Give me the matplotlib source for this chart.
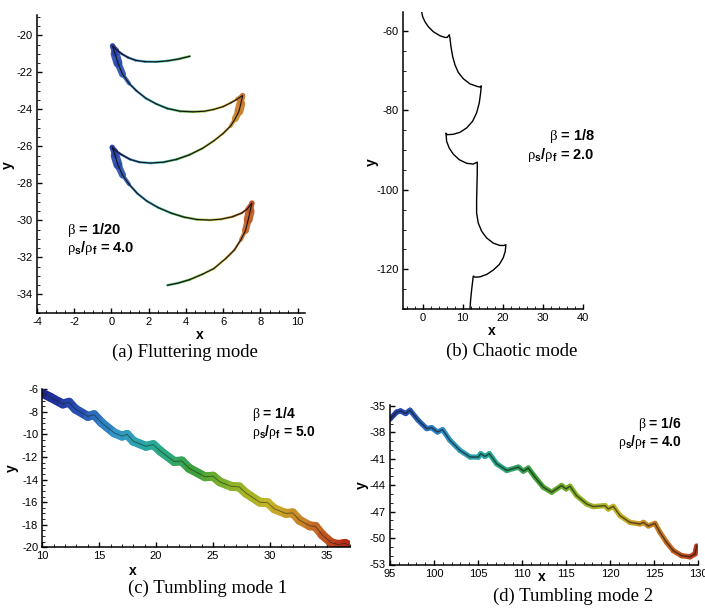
import numpy as np
import matplotlib
matplotlib.use('Agg')
import matplotlib.pyplot as plt
from matplotlib.collections import LineCollection
from matplotlib.colors import LinearSegmentedColormap, Normalize
from matplotlib.ticker import MultipleLocator

plt.rcParams['font.family'] = ['Liberation Sans', 'DejaVu Sans']
plt.rcParams['mathtext.fontset'] = 'custom'
plt.rcParams['mathtext.rm'] = 'Liberation Serif'
plt.rcParams['mathtext.bf'] = 'Liberation Sans:bold'
plt.rcParams['axes.unicode_minus'] = False

# (a) fluttering mode trajectory
a_x = [4.21, 3.6, 3.0, 2.4, 1.8, 1.3, 0.9, 0.55, 0.3, 0.06,
       0.2, 0.35, 0.6, 0.95, 1.35, 1.85, 2.4, 3.0, 3.7, 4.4, 5.0, 5.5, 6.0, 6.4, 6.75, 7.05,
       6.95, 6.85, 6.65, 6.4, 6.0, 5.5, 4.9, 4.2, 3.5, 2.8, 2.1, 1.5, 1.0, 0.55, 0.25, 0.04,
       0.2, 0.35, 0.6, 0.95, 1.4, 1.9, 2.5, 3.2, 3.9, 4.6, 5.3, 5.9, 6.5, 7.0, 7.3, 7.55,
       7.45, 7.35, 7.2, 6.95, 6.6, 6.15, 5.5, 4.9, 4.2, 3.6, 3.01]
a_y = [-21.13, -21.28, -21.38, -21.43, -21.42, -21.35, -21.2, -21.0, -20.8, -20.57,
       -21.0, -21.5, -22.1, -22.6, -23.0, -23.4, -23.7, -23.95, -24.1, -24.13, -24.1, -24.0,
       -23.85, -23.65, -23.45, -23.25,
       -23.7, -24.1, -24.5, -24.9, -25.3, -25.7, -26.1, -26.45, -26.7, -26.85, -26.9, -26.85,
       -26.7, -26.45, -26.25, -26.05,
       -26.5, -27.0, -27.55, -28.05, -28.55, -28.95, -29.3, -29.6, -29.82, -29.95, -29.98,
       -29.93, -29.8, -29.6, -29.38, -29.06,
       -29.5, -29.95, -30.55, -31.05, -31.6, -32.05, -32.6, -32.9, -33.2, -33.38, -33.5]
a_cusps = [9, 25, 41, 57]
a_xticks = [-4, -2, 0, 2, 4, 6, 8, 10]
a_yticks = [-34, -32, -30, -28, -26, -24, -22, -20]

# (b) chaotic mode trajectory
b_x = [-0.26, 0.0, 0.58, 1.41, 2.66, 4.33, 5.58, 6.16, 6.66,
       6.83, 7.08, 7.5, 8.08, 8.9, 10.16, 11.83, 13.5, 14.33, 14.66,
       14.5, 14.16, 13.5, 12.5, 11.0, 9.33, 7.66, 6.16, 5.83,
       6.0, 6.66, 7.66, 9.16, 11.0, 12.66, 13.66,
       13.66, 13.58, 13.5, 13.5, 13.9, 14.75, 16.0, 17.66, 19.33, 20.33, 20.83,
       20.66, 20.16, 19.16, 17.66, 16.0, 14.33, 13.08, 12.66,
       12.5, 12.25, 12.0, 11.83]
b_y = [-55.14, -56.4, -57.66, -58.9, -60.17, -61.18, -61.6, -61.6, -60.93,
       -61.85, -63.94, -66.4, -68.5, -70.4, -72.0, -73.3, -73.9, -74.1, -73.8,
       -75.6, -78.1, -80.6, -82.7, -84.4, -85.5, -86.0, -86.1, -85.7,
       -87.8, -89.5, -91.0, -92.4, -93.3, -93.5, -93.0,
       -95.8, -99.1, -102.5, -105.8, -108.3, -110.4, -112.1, -113.4, -114.0, -114.0, -113.8,
       -115.5, -117.1, -118.8, -120.2, -121.3, -121.9, -122.0, -121.7,
       -123.1, -125.2, -127.7, -130.0]
b_xticks = [0, 10, 20, 30, 40]
b_yticks = [-120, -100, -80, -60]

# (c) tumbling mode 1
c_x = [10.0, 10.7, 11.8, 12.35, 12.9, 14.0, 14.55, 15.2, 16.3, 17.0, 17.45, 18.0, 19.1,
       19.75, 20.4, 21.6, 22.25, 22.9, 24.3, 25.0, 25.6, 26.6, 27.3, 27.9, 29.1, 29.8,
       30.4, 31.4, 32.0, 32.6, 33.5, 34.0, 34.6, 35.4, 36.0, 36.6, 36.9]
c_y = [-6.35, -6.7, -7.3, -7.15, -7.75, -8.4, -8.25, -8.95, -9.85, -10.15, -10.0, -10.6,
       -11.05, -10.9, -11.5, -12.4, -12.35, -13.0, -13.75, -13.7, -14.2, -14.6, -14.65,
       -15.2, -16.0, -16.05, -16.6, -17.0, -16.95, -17.6, -18.1, -18.15, -18.9, -19.6,
       -19.75, -19.65, -19.8]
c_xticks = [10, 15, 20, 25, 30, 35]
c_yticks = [-20, -18, -16, -14, -12, -10, -8, -6]

# (d) tumbling mode 2
d_x = [95.0, 95.76, 96.2, 96.78, 97.27, 98.2, 99.17, 99.73, 100.38, 100.98, 101.8, 102.95,
       104.1, 105.04, 105.3, 105.8, 106.29, 107.12, 108.26, 109.58, 110.15, 110.72, 111.48,
       112.42, 113.37, 114.5, 115.0, 115.45, 116.2, 117.35, 118.1, 119.43, 119.8, 120.38,
       121.14, 122.27, 123.4, 123.8, 124.36, 125.11, 125.68, 126.44, 127.2, 128.14, 129.1,
       129.66, 129.85]
d_y = [-36.5, -35.7, -35.57, -35.87, -35.49, -36.63, -37.58, -37.47, -37.96, -37.7, -38.9,
       -40.05, -40.8, -40.81, -40.43, -40.73, -40.43, -41.57, -42.33, -41.95, -42.4, -42.06,
       -43.09, -44.23, -44.8, -44.04, -44.42, -44.12, -45.18, -46.13, -46.43, -46.32, -46.7,
       -46.4, -47.46, -48.22, -48.4, -48.22, -48.63, -48.33, -49.36, -50.5, -51.44, -52.0,
       -52.13, -51.8, -50.9]
d_xticks = [95, 100, 105, 110, 115, 120, 125, 130]
d_yticks = [-53, -50, -47, -44, -41, -38, -35]

# muted rainbow, roughly like the tecplot contour colours
rainbow = LinearSegmentedColormap.from_list('muted', [
    '#1e1e8c', '#2850b4', '#3296c8', '#28aa96', '#3ca03c',
    '#8cb428', '#c8b428', '#c87828', '#b42818'])


def segments(x, y):
    pts = np.column_stack([x, y])
    return np.stack([pts[:-1], pts[1:]], axis=1)


def style_axes(ax, xlim, ylim, xticks, yticks, xminor, yminor):
    ax.set_xlim(*xlim)
    ax.set_ylim(*ylim)
    ax.set_xticks(xticks)
    ax.set_yticks(yticks)
    ax.xaxis.set_minor_locator(MultipleLocator(xminor))
    ax.yaxis.set_minor_locator(MultipleLocator(yminor))
    for s in ['top', 'right']:
        ax.spines[s].set_visible(False)
    for s in ['left', 'bottom']:
        ax.spines[s].set_linewidth(1.1)
    ax.tick_params(which='both', direction='in', top=False, right=False)
    ax.tick_params(which='major', length=3.8, width=1.0, labelsize=8, pad=3)
    ax.tick_params(which='minor', length=2.0, width=0.6)
    ax.patch.set_alpha(0)


def two_lines(ax, x, y, beta, ratio, dy, ha='left', size=10.5):
    ax.text(x, y, r'$\mathrm{\beta}$ = ' + beta, fontsize=size, fontweight='bold',
            va='center', ha=ha, clip_on=False)
    ax.text(x, y - dy, r'$\mathrm{\rho}_\mathbf{s}$/$\mathrm{\rho}_\mathbf{f}$ = ' + ratio,
            fontsize=size, fontweight='bold', va='center', ha=ha, clip_on=False)


fig = plt.figure(figsize=(7.05, 6.10), dpi=100)

# ---- (a) Fluttering ----
ax = fig.add_axes([37 / 705, 1 - 313 / 610, 268 / 705, 298 / 610])
style_axes(ax, (-4, 10.4), (-35, -18.9), a_xticks, a_yticks, 0.5, 0.5)
seg = segments(a_x, a_y)
lw = np.full(len(seg), 1.7)
for i in a_cusps:
    lw[i - 1] = 3.0
    for k, w in enumerate([4.0, 6.5, 5.0, 2.8]):
        if i + k < len(lw):
            lw[i + k] = w
mid = seg[:, :, 0].mean(axis=1)
lc = LineCollection(seg, colors=rainbow(Normalize(-0.5, 8.0)(mid)), linewidths=lw,
                    capstyle='round', joinstyle='round', alpha=0.9)
ax.add_collection(lc)
ax.plot(a_x, a_y, color='#141414', lw=0.8)
two_lines(ax, -2.4, -30.5, '1/20', '4.0', 1.0)

# ---- (b) Chaotic ----
ax = fig.add_axes([402.7 / 705, 1 - 309 / 610, 180 / 705, 297 / 610])
style_axes(ax, (-5, 40.05), (-130, -55.2), b_xticks, b_yticks, 2, 5)
ax.plot(b_x, b_y, color='black', lw=1.0)
two_lines(ax, 43.1, -86.4, '1/8', '2.0', 4.8, ha='right')

# ---- (c) Tumbling 1 ----
ax = fig.add_axes([42.3 / 705, 1 - 547.3 / 610, 307.3 / 705, 158 / 610])
style_axes(ax, (10, 37), (-20, -6), c_xticks, c_yticks, 1, 0.5)
seg = segments(c_x, c_y)
mid = seg[:, :, 0].mean(axis=1)
lc = LineCollection(seg, colors=rainbow(Normalize(10, 37)(mid)), linewidths=6.5,
                    capstyle='round', joinstyle='round')
ax.add_collection(lc)
ax.plot(c_x, c_y, color='#102010', lw=0.6, alpha=0.6)
two_lines(ax, 28.4, -8.2, '1/4', '5.0', 1.55, size=10)

# ---- (d) Tumbling 2 ----
ax = fig.add_axes([390 / 705, 1 - 564.5 / 610, 308 / 705, 159.5 / 610])
style_axes(ax, (95, 130), (-53, -34.9), d_xticks, d_yticks, 1, 1)
seg = segments(d_x, d_y)
mid = seg[:, :, 0].mean(axis=1)
lc = LineCollection(seg, colors=rainbow(Normalize(92, 131)(mid)), linewidths=3.8,
                    capstyle='round', joinstyle='round')
ax.add_collection(lc)
ax.plot(d_x, d_y, color='#101010', lw=1.1, alpha=0.6)
two_lines(ax, 128.2, -37.05, '1/6', '4.0', 2.0, ha='right', size=10)

# axis labels
for (px, py) in [(200, 335), (492, 331), (133, 571), (542, 577)]:
    fig.text(px / 705, 1 - py / 610, 'x', fontsize=10, fontweight='bold', ha='center', va='center')
for (px, py) in [(8, 165), (372, 162), (12, 468), (362, 485)]:
    fig.text(px / 705, 1 - py / 610, 'y', fontsize=10, fontweight='bold', ha='center',
             va='center', rotation=90)

# captions
caps = ['(a) Fluttering mode', '(b) Chaotic mode', '(c) Tumbling mode 1', '(d) Tumbling mode 2']
for cap, (px, py) in zip(caps, [(185, 352), (512, 351), (208, 588), (573, 596)]):
    fig.text(px / 705, 1 - py / 610, cap, fontsize=13.5, family='Liberation Serif',
             ha='center', va='center')

fig.savefig('out.png', dpi=100)
